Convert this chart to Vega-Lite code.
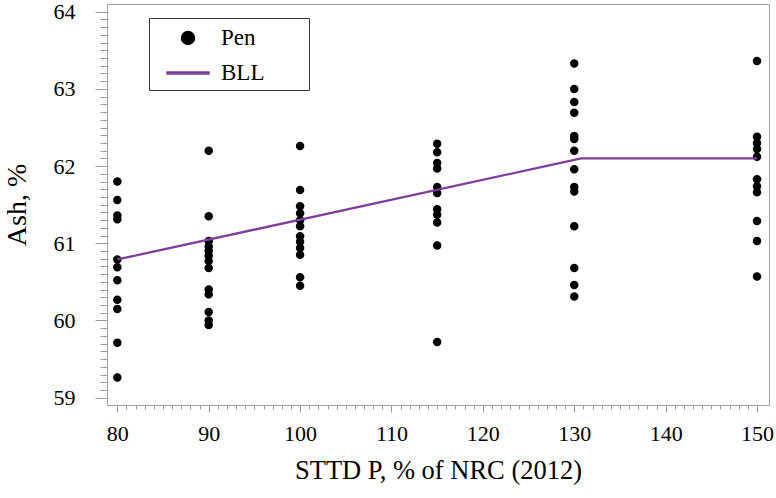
{
  "$schema": "https://vega.github.io/schema/vega-lite/v6.json",
  "autosize": "none",
  "width": 662,
  "height": 401,
  "padding": {"left": 107, "top": 4, "right": 7, "bottom": 93},
  "background": "white",
  "config": {
    "view": {"stroke": "#a0a0a0", "strokeWidth": 1},
    "axis": {"grid": false, "domain": false, "tickColor": "#9a9a9a", "tickWidth": 1, "labelFont": "Liberation Serif", "labelColor": "#000", "titleFont": "Liberation Serif", "titleColor": "#000", "titleFontWeight": "normal"},
    "legend": {
      "title": null, "orient": "none", "legendX": 42, "legendY": 14,
      "padding": 5, "strokeColor": "#333", "fillColor": "white",
      "labelFont": "Liberation Serif", "labelFontSize": 23, "labelColor": "#000",
      "labelOffset": 18, "symbolOffset": 19, "rowPadding": 8, "symbolSize": 784
    }
  },
  "datasets": {
    "pen": [
      {"p": 80, "ash": 61.80}, {"p": 80, "ash": 61.56}, {"p": 80, "ash": 61.36}, {"p": 80, "ash": 61.31}, {"p": 80, "ash": 60.79}, {"p": 80, "ash": 60.69}, {"p": 80, "ash": 60.52}, {"p": 80, "ash": 60.27}, {"p": 80, "ash": 60.15}, {"p": 80, "ash": 59.71}, {"p": 80, "ash": 59.26},
      {"p": 90, "ash": 62.20}, {"p": 90, "ash": 61.35}, {"p": 90, "ash": 61.03}, {"p": 90, "ash": 60.96}, {"p": 90, "ash": 60.90}, {"p": 90, "ash": 60.84}, {"p": 90, "ash": 60.77}, {"p": 90, "ash": 60.68}, {"p": 90, "ash": 60.40}, {"p": 90, "ash": 60.34}, {"p": 90, "ash": 60.11}, {"p": 90, "ash": 60.00}, {"p": 90, "ash": 59.94},
      {"p": 100, "ash": 62.26}, {"p": 100, "ash": 61.69}, {"p": 100, "ash": 61.48}, {"p": 100, "ash": 61.39}, {"p": 100, "ash": 61.30}, {"p": 100, "ash": 61.22}, {"p": 100, "ash": 61.09}, {"p": 100, "ash": 61.02}, {"p": 100, "ash": 60.94}, {"p": 100, "ash": 60.85}, {"p": 100, "ash": 60.56}, {"p": 100, "ash": 60.45},
      {"p": 115, "ash": 62.29}, {"p": 115, "ash": 62.18}, {"p": 115, "ash": 62.04}, {"p": 115, "ash": 61.97}, {"p": 115, "ash": 61.73}, {"p": 115, "ash": 61.65}, {"p": 115, "ash": 61.44}, {"p": 115, "ash": 61.37}, {"p": 115, "ash": 61.27}, {"p": 115, "ash": 60.97}, {"p": 115, "ash": 59.72},
      {"p": 130, "ash": 63.33}, {"p": 130, "ash": 63.00}, {"p": 130, "ash": 62.83}, {"p": 130, "ash": 62.69}, {"p": 130, "ash": 62.39}, {"p": 130, "ash": 62.35}, {"p": 130, "ash": 62.20}, {"p": 130, "ash": 61.96}, {"p": 130, "ash": 61.73}, {"p": 130, "ash": 61.67}, {"p": 130, "ash": 61.22}, {"p": 130, "ash": 60.68}, {"p": 130, "ash": 60.46}, {"p": 130, "ash": 60.31},
      {"p": 150, "ash": 63.36}, {"p": 150, "ash": 62.38}, {"p": 150, "ash": 62.30}, {"p": 150, "ash": 62.22}, {"p": 150, "ash": 62.12}, {"p": 150, "ash": 61.83}, {"p": 150, "ash": 61.74}, {"p": 150, "ash": 61.66}, {"p": 150, "ash": 61.29}, {"p": 150, "ash": 61.03}, {"p": 150, "ash": 60.57}
    ],
    "bll": [
      {"p": 80, "ash": 60.79}, {"p": 130.75, "ash": 62.10}, {"p": 150, "ash": 62.10}
    ]
  },
  "resolve": {"axis": {"x": "independent", "y": "independent"}},
  "layer": [
    {
      "data": {"name": "pen"},
      "transform": [{"calculate": "'Pen'", "as": "series"}],
      "mark": {"type": "point", "filled": true, "size": 335, "opacity": 1},
      "encoding": {
        "x": {"field": "p", "type": "quantitative",
          "scale": {"domain": [78.87, 151.31], "nice": false, "zero": false},
          "axis": {"orient": "bottom", "values": [80, 90, 100, 110, 120, 130, 140, 150], "tickSize": 7, "labelFontSize": 22, "labelPadding": 11, "title": "STTD P, % of NRC (2012)", "titleFontSize": 26.5, "titlePadding": 13}},
        "y": {"field": "ash", "type": "quantitative",
          "scale": {"domain": [58.905, 64.10], "nice": false, "zero": false},
          "axis": {"orient": "left", "values": [59, 60, 61, 62, 63, 64], "tickSize": 12, "labelFontSize": 22, "labelPadding": 20, "title": "Ash, %", "titleFontSize": 28, "titlePadding": 22}},
        "shape": {"field": "series", "type": "nominal",
          "scale": {"domain": ["Pen", "BLL"], "range": ["M0.464,0A0.464,0.464,0,1,1,-0.464,0A0.464,0.464,0,1,1,0.464,0Z", "M-1.5,-0.08L1.5,-0.08L1.5,0.08L-1.5,0.08Z"]},
          "legend": null},
        "color": {"field": "series", "type": "nominal",
          "scale": {"domain": ["Pen", "BLL"], "range": ["#000000", "#7E3F98"]},
          "legend": {"labelExpr": "datum.label + '\u2003\u2002\u2009\u200b'"}}
      }
    },
    {
      "data": {"name": "bll"},
      "transform": [{"calculate": "'BLL'", "as": "series"}],
      "mark": {"type": "line", "strokeWidth": 2.3},
      "encoding": {
        "x": {"field": "p", "type": "quantitative",
          "axis": {"orient": "bottom", "values": [80,81,82,83,84,85,86,87,88,89,90,91,92,93,94,95,96,97,98,99,100,101,102,103,104,105,106,107,108,109,110,111,112,113,114,115,116,117,118,119,120,121,122,123,124,125,126,127,128,129,130,131,132,133,134,135,136,137,138,139,140,141,142,143,144,145,146,147,148,149,150], "tickSize": 4, "labels": false, "title": null}},
        "y": {"field": "ash", "type": "quantitative",
          "axis": {"orient": "left", "values": [59,59.1,59.2,59.3,59.4,59.5,59.6,59.7,59.8,59.9,60,60.1,60.2,60.3,60.4,60.5,60.6,60.7,60.8,60.9,61,61.1,61.2,61.3,61.4,61.5,61.6,61.7,61.8,61.9,62,62.1,62.2,62.3,62.4,62.5,62.6,62.7,62.8,62.9,63,63.1,63.2,63.3,63.4,63.5,63.6,63.7,63.8,63.9,64], "tickSize": 7, "labels": false, "title": null}},
        "color": {"field": "series", "type": "nominal",
          "legend": {"labelExpr": "datum.label + '\u2003\u2002\u2009\u200b'"}}
      }
    }
  ]
}
